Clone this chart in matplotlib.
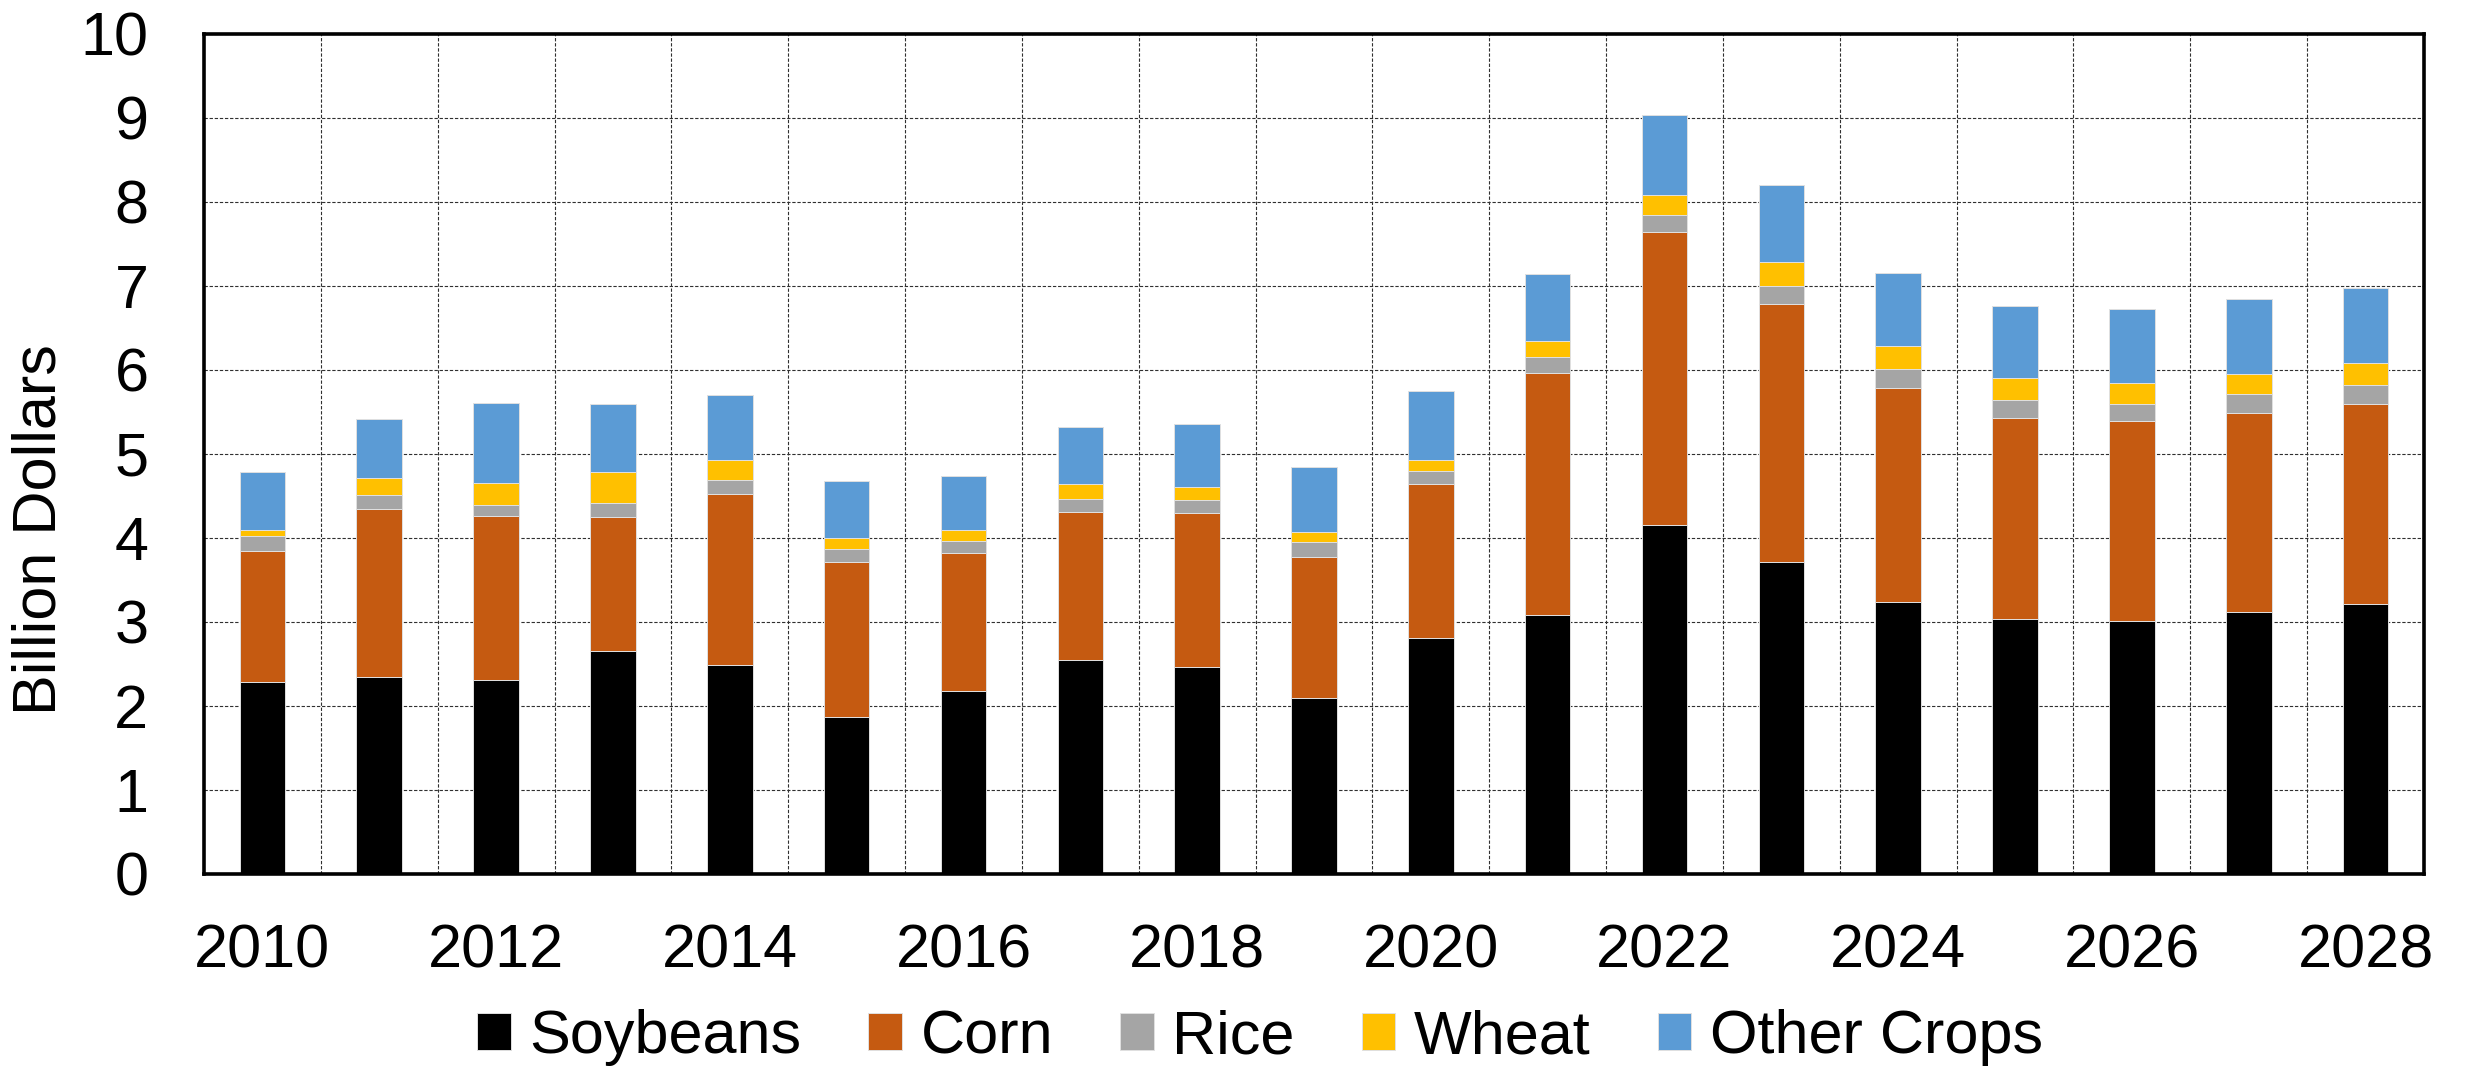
import matplotlib
matplotlib.use("Agg")
import matplotlib.pyplot as plt
import numpy as np

plt.rcParams['font.family'] = ['Liberation Sans', 'DejaVu Sans']

years = list(range(2010, 2029))
soybeans = [2.29, 2.34, 2.31, 2.66, 2.49, 1.87, 2.18, 2.55, 2.47, 2.10,
            2.81, 3.08, 4.16, 3.71, 3.24, 3.03, 3.01, 3.12, 3.22]
corn = [1.55, 2.00, 1.95, 1.59, 2.03, 1.85, 1.64, 1.76, 1.83, 1.67,
        1.83, 2.89, 3.48, 3.08, 2.55, 2.40, 2.38, 2.37, 2.38]
rice = [0.18, 0.17, 0.13, 0.17, 0.17, 0.15, 0.14, 0.16, 0.15, 0.18,
        0.16, 0.19, 0.20, 0.21, 0.22, 0.21, 0.21, 0.22, 0.22]
wheat = [0.08, 0.20, 0.26, 0.37, 0.24, 0.13, 0.14, 0.17, 0.16, 0.12,
         0.13, 0.18, 0.24, 0.29, 0.28, 0.26, 0.25, 0.24, 0.26]
other = [0.69, 0.71, 0.96, 0.80, 0.77, 0.68, 0.64, 0.68, 0.75, 0.77,
         0.82, 0.80, 0.96, 0.91, 0.87, 0.86, 0.88, 0.89, 0.90]

series_names = ["Soybeans", "Corn", "Rice", "Wheat", "Other Crops"]
series_vals = [soybeans, corn, rice, wheat, other]
colors = ["#000000", "#C55A11", "#A5A5A5", "#FFC000", "#5B9BD5"]

W, H = 2465, 1074
fig = plt.figure(figsize=(W / 100, H / 100), dpi=100)
ax = fig.add_axes([204 / W, 1 - 874 / H, (2424 - 204) / W, (874 - 34) / H])

x = np.arange(len(years))
bottom = np.zeros(len(years))
handles = []
for name, vals, c in zip(series_names, series_vals, colors):
    v = np.array(vals)
    b = ax.bar(x, v, width=0.39, bottom=bottom, color=c, edgecolor='#e0e0e0',
               linewidth=0.7, label=name, zorder=3)
    handles.append(b)
    bottom += v

ax.set_xlim(-0.5, len(years) - 0.5)
ax.set_ylim(0, 10)
ax.set_yticks(range(0, 11))
ax.set_xticks(x[::2])
ax.set_xticklabels([str(y) for y in years[::2]])
ax.set_xticks(np.arange(0.5, len(years) - 1, 1), minor=True)

ax.tick_params(axis='both', which='both', length=0)
ax.tick_params(axis='x', which='major', labelsize=44, pad=36)
ax.tick_params(axis='y', which='major', labelsize=44, pad=40)

ax.set_axisbelow(True)
ax.grid(axis='y', which='major', color='#303030', linewidth=0.8,
        linestyle=(0, (3, 1.6)), zorder=0)
ax.grid(axis='x', which='minor', color='#303030', linewidth=0.8,
        linestyle=(0, (3, 1.6)), zorder=0)
ax.grid(axis='x', which='major', visible=False)

for s in ax.spines.values():
    s.set_linewidth(2.6)
    s.set_color('black')
    s.set_zorder(5)

fig.text(40 / W, 1 - 530 / H, "Billion Dollars", rotation=90,
         ha='center', va='center', fontsize=44)

fig.legend(handles=handles, labels=series_names, loc='center',
           bbox_to_anchor=(1260 / W, 1 - 1038 / H), ncol=5, frameon=False,
           fontsize=44, handlelength=0.55, handleheight=0.55,
           handletextpad=0.3, columnspacing=1.1, borderpad=0, borderaxespad=0)

fig.savefig("out.png", dpi=100)
